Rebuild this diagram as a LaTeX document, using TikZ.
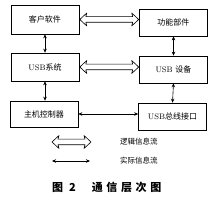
\documentclass[tikz,border=0pt]{standalone}
\usepackage{fontspec}
\newfontfamily\cjk{Noto Sans CJK SC}
\usetikzlibrary{arrows.meta, calc}

\begin{document}
\begin{tikzpicture}[x=1pt, y=-1pt,
    layerbox/.style={draw, line width=0.6pt, minimum width=68pt, minimum height=27pt,
          inner sep=0pt, font=\fontsize{8}{9}\selectfont},
    logicflow/.style={line width=0.6pt, line join=round,
          to path={let \p1=(\tikztostart), \p2=(\tikztotarget) in
            (\x1,\y1) -- (\x1+7pt,\y1+6.5pt) -- (\x1+6pt,\y1+2.8pt) -- (\x2-6pt,\y1+2.8pt)
            -- (\x2-7pt,\y1+6.5pt) -- (\x2,\y1) -- (\x2-7pt,\y1-6.5pt) -- (\x2-6pt,\y1-2.8pt)
            -- (\x1+6pt,\y1-2.8pt) -- (\x1+7pt,\y1-6.5pt) -- cycle}},
    realflow/.style={line width=0.6pt, {Stealth[length=4pt, width=3.5pt]}-{Stealth[length=4pt, width=3.5pt]}}]
    % Diagram: six layer boxes in two columns, legend and caption below.
    % Coordinates in px of the 218x208 picture, y counted downward.
    \useasboundingbox (0,0) rectangle (218,208);
    \node[layerbox, minimum height=29pt] (kh) at (45,19.5) {\cjk 客户软件};
    \node[layerbox] (gn) at (173.5,22.5) {\cjk 功能部件};
    \node[layerbox, minimum height=28pt] (usbs) at (45,67) {USB\cjk 系统};
    \node[layerbox] (usbd) at (173.5,69.5) {USB {\cjk 设备}};
    \node[layerbox, minimum height=26pt] (zk) at (44,114) {\cjk 主机控制器};
    \node[layerbox] (zx) at (172.5,116.5) {USB\cjk 总线接口};
    % logical flow between peers
    \draw[logicflow] ([xshift=0.5pt]kh.east) to ([xshift=-0.5pt]kh.east -| gn.west);
    \draw[logicflow] ([xshift=0.5pt]usbs.east) to ([xshift=-0.5pt]usbs.east -| usbd.west);
    % real flow
    \draw[realflow] (zk.east) -- (zk.east -| zx.west);
    \draw[realflow] (kh.south) -- (usbs.north);
    \draw[realflow] (usbs.south) -- (usbs.south |- zk.north);
    \draw[realflow] (gn.south) -- (usbd.north);
    \draw[realflow] (usbd.south) -- (zx.north);
    % legend
    \coordinate (l1a) at (52,142);
    \coordinate (l1b) at (91,142);
    \coordinate (l2a) at (52,161);
    \coordinate (l2b) at (90,161);
    \draw[logicflow] (l1a) to (l1b);
    \draw[realflow] (l2a) -- (l2b);
    \node[font=\fontsize{7.5}{9}\selectfont] (lg1) at (139,142) {\cjk 逻辑信息流};
    \node[font=\fontsize{7.5}{9}\selectfont] (lg2) at (139,161) {\cjk 实际信息流};
    \node[font=\fontsize{11}{13}\selectfont\bfseries, anchor=west, inner sep=0pt] (cap) at (52,187)
          {\cjk 图\hspace{6pt}2\hspace{16pt}通\hspace{3.6pt}信\hspace{3.6pt}层\hspace{3.6pt}次\hspace{3.6pt}图};
\end{tikzpicture}
\end{document}
